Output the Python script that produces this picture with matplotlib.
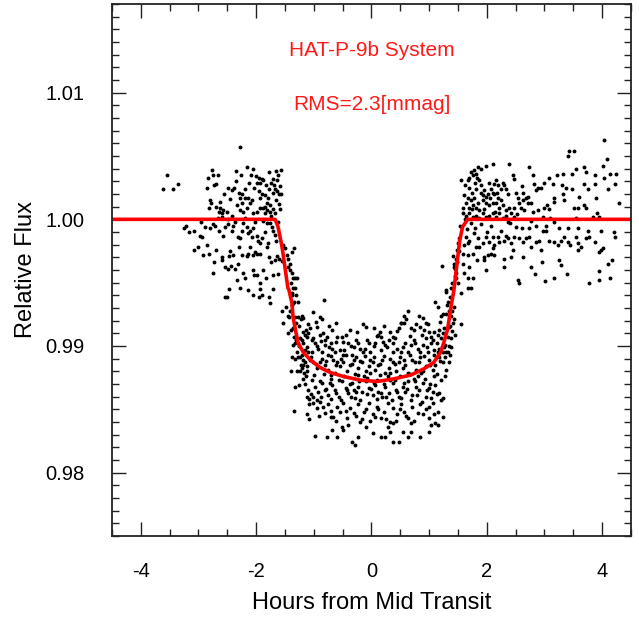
import numpy as np
import matplotlib
matplotlib.use("Agg")
import matplotlib.pyplot as plt
from matplotlib.ticker import MultipleLocator, FormatStrFormatter

# light curve points: (hours from mid transit, relative flux)
pre_transit = [
    (-2.28, 1.0057), (-3.55, 1.0035), (-3.62, 1.0024), (-3.45, 1.0024), (-3.36, 1.0028),
    (-2.77, 1.0039), (-2.84, 1.0033), (-2.75, 1.0035), (-2.67, 1.0035), (-2.70, 1.0028),
    (-2.73, 1.0027), (-2.86, 1.0025), (-2.80, 1.0015), (-2.79, 1.0013), (-2.82, 1.0009),
    (-2.49, 1.0025), (-2.42, 1.0023), (-2.39, 1.0025), (-2.16, 1.0041), (-2.06, 1.0040),
    (-2.09, 1.0035), (-2.00, 1.0034), (-2.26, 1.0035), (-1.90, 1.0032), (-1.88, 1.0031),
    (-1.99, 1.0029), (-1.93, 1.0029), (-1.71, 1.0032), (-1.62, 1.0035), (-1.57, 1.0039),
    (-1.64, 1.0031), (-1.67, 1.0024), (-1.64, 1.0022), (-1.60, 1.0020), (-1.57, 1.0020),
    (-1.71, 1.0021), (-1.90, 1.0020), (-1.85, 1.0019), (-1.93, 1.0017), (-1.81, 1.0013),
    (-1.76, 1.0011), (-1.79, 1.0017), (-2.30, 1.0021), (-2.25, 1.0020), (-2.19, 1.0017),
    (-2.14, 1.0017), (-2.11, 1.0013), (-2.07, 1.0015), (-2.28, 1.0017), (-2.25, 1.0013),
    (-2.33, 1.0011), (-2.28, 1.0007), (-2.23, 1.0006), (-2.16, 1.0009), (-2.06, 1.0005),
    (-1.99, 1.0006), (-1.93, 1.0009), (-2.63, 1.0009), (-2.58, 1.0007), (-2.65, 1.0006),
    (-2.60, 1.0005), (-2.51, 1.0006), (-2.67, 1.0001), (-2.60, 1.0002), (-2.42, 1.0003),
    (-2.49, 1.0000), (-1.88, 1.0009), (-1.81, 1.0007), (-1.85, 1.0005), (-1.76, 1.0006),
    (-1.71, 1.0008), (-1.67, 1.0005), (-1.88, 0.9999), (-1.81, 0.9997), (-1.76, 0.9997),
    (-1.72, 0.9994), (-1.71, 0.9991), (-3.26, 0.9993), (-3.21, 0.9995), (-3.17, 0.9990),
    (-2.98, 0.9987), (-2.94, 0.9986), (-2.89, 0.9994), (-2.80, 0.9993), (-2.75, 0.9996),
    (-2.72, 0.9995), (-2.54, 0.9994), (-2.49, 0.9996), (-2.40, 0.9995), (-2.42, 0.9991),
    (-2.23, 0.9997), (-2.16, 0.9994), (-2.25, 0.9991), (-2.11, 0.9991), (-2.06, 0.9993),
    (-2.32, 0.9986), (-2.28, 0.9985), (-2.14, 0.9989), (-2.07, 0.9986), (-1.99, 0.9987),
    (-1.97, 0.9983), (-1.93, 0.9981), (-1.79, 0.9981), (-1.81, 0.9978), (-2.11, 0.9978),
    (-2.02, 0.9974), (-1.99, 0.9973), (-1.93, 0.9973), (-2.14, 0.9973), (-2.06, 0.9972),
    (-2.16, 0.9971), (-3.07, 0.9976), (-3.01, 0.9978), (-2.93, 0.9972), (-2.82, 0.9973),
    (-2.70, 0.9976), (-2.46, 0.9975), (-2.47, 0.9971), (-2.40, 0.9972), (-2.25, 0.9972),
    (-2.60, 0.9970), (-2.60, 0.9968), (-2.73, 0.9966), (-2.54, 0.9962), (-2.44, 0.9963),
    (-2.49, 0.9961), (-2.37, 0.9961), (-2.32, 0.9965), (-2.75, 0.9958), (-2.33, 0.9952),
    (-2.23, 0.9958), (-2.19, 0.9954), (-2.06, 0.9960), (-2.04, 0.9956), (-1.99, 0.9956),
    (-1.88, 0.9960), (-1.93, 0.9950), (-1.83, 0.9954), (-1.71, 0.9956), (-1.62, 0.9957),
    (-1.74, 0.9966), (-1.67, 0.9968), (-1.64, 0.9971), (-1.60, 0.9969), (-1.55, 0.9967),
    (-2.47, 0.9945), (-2.28, 0.9946), (-2.14, 0.9944), (-1.93, 0.9945), (-1.71, 0.9945),
    (-2.51, 0.9939), (-2.54, 0.9939), (-2.06, 0.9940), (-1.95, 0.9939), (-1.90, 0.9940),
    (-1.76, 0.9934), (-1.78, 0.9939),
    (-1.83, 1.0027), (-1.77, 1.0024), (-1.74, 1.0029), (-1.69, 1.0027), (-1.66, 1.0015),
    (-1.61, 1.0012), (-1.85, 1.0010), (-1.95, 1.0022), (-2.03, 1.0025), (-2.12, 1.0029),
    (-2.20, 1.0024), (-2.35, 1.0030), (-2.45, 1.0016), (-2.55, 1.0020), (-2.62, 1.0014),
    (-2.70, 1.0010), (-1.75, 1.0003), (-1.62, 0.9998), (-1.68, 0.9988), (-1.85, 0.9990),
    (-2.02, 0.9998), (-2.20, 1.0001), (-2.37, 0.9998), (-2.57, 0.9987), (-2.85, 0.9980),
    (-1.90, 0.9985), (-1.65, 0.9983), (-1.77, 0.9970), (-2.30, 0.9978), (-2.65, 0.9991),
    (-2.96, 0.9998), (-3.08, 0.9991), (-1.58, 1.0008), (-1.58, 1.0026), (-1.65, 1.0038),
    (-1.78, 1.0037), (-1.95, 1.0033), (-2.35, 1.0038),
]

ingress = [
    (-1.53, 0.9980), (-1.50, 0.9977), (-1.46, 0.9972), (-1.45, 0.9969), (-1.41, 0.9965),
    (-1.38, 0.9974), (-1.34, 0.9977), (-1.45, 0.9962), (-1.41, 0.9960), (-1.38, 0.9958),
    (-1.36, 0.9954), (-1.32, 0.9954), (-1.29, 0.9954), (-1.36, 0.9946), (-1.32, 0.9946),
    (-1.55, 0.9928), (-1.48, 0.9931), (-1.45, 0.9924), (-1.43, 0.9923), (-1.53, 0.9918),
    (-1.45, 0.9910), (-1.39, 0.9913), (-1.36, 0.9914), (-1.34, 0.9907), (-1.38, 0.9942),
    (-1.31, 0.9940), (-1.34, 0.9935), (-1.27, 0.9935), (-1.38, 0.9932), (-1.36, 0.9934),
    (-1.32, 0.9923), (-1.27, 0.9923), (-1.20, 0.9924), (-1.18, 0.9922), (-1.22, 0.9921),
    (-1.31, 0.9918), (-1.25, 0.9916), (-1.10, 0.9917), (-1.13, 0.9913), (-1.18, 0.9911),
    (-1.10, 0.9910), (-1.15, 0.9909), (-1.11, 0.9907), (-1.31, 0.9905), (-1.24, 0.9906),
    (-1.20, 0.9905), (-1.18, 0.9902), (-1.27, 0.9902), (-1.32, 0.9902), (-1.36, 0.9901),
    (-1.11, 0.9899), (-1.15, 0.9897), (-1.29, 0.9895), (-1.10, 0.9895), (-1.20, 0.9893),
    (-1.27, 0.9891), (-1.24, 0.9891), (-1.38, 0.9891), (-1.32, 0.9890), (-1.18, 0.9889),
    (-1.15, 0.9887), (-1.18, 0.9885), (-1.11, 0.9884), (-1.20, 0.9883), (-1.29, 0.9880),
    (-1.24, 0.9880), (-1.11, 0.9880), (-1.17, 0.9879), (-1.18, 0.9874), (-1.13, 0.9876),
    (-1.10, 0.9865), (-1.25, 0.9869), (-1.32, 0.9868), (-1.11, 0.9860), (-1.08, 0.9858),
    (-1.08, 0.9854), (-1.34, 0.9849), (-1.11, 0.9846), (-1.08, 0.9842),
    (-1.40, 0.9950), (-1.37, 0.9940), (-1.42, 0.9928), (-1.25, 0.9900), (-1.22, 0.9885),
    (-1.40, 0.9880), (-1.15, 0.9870),
]

in_transit = [
    (-0.82, 0.9936), (-1.01, 0.9927), (-0.89, 0.9923), (-0.85, 0.9921), (1.29, 0.9943),
    (1.32, 0.9935), (1.31, 0.9932), (1.36, 0.9939), (1.34, 0.9928), (1.24, 0.9925),
    (1.20, 0.9924), (1.10, 0.9935), (1.15, 0.9931), (1.43, 0.9931), (0.63, 0.9928),
    (0.57, 0.9924), (0.82, 0.9924), (0.56, 0.9918), (0.51, 0.9918),
    (-1.06, 0.9914), (-0.94, 0.9915), (-1.01, 0.9906), (-1.03, 0.9905), (-0.89, 0.9909),
    (-0.84, 0.9910), (-0.77, 0.9907), (-0.80, 0.9905), (-0.68, 0.9913), (-0.59, 0.9907),
    (-0.51, 0.9907), (-0.45, 0.9909), (-0.49, 0.9903), (-0.14, 0.9917), (-0.10, 0.9915),
    (0.14, 0.9911), (0.12, 0.9909), (0.16, 0.9907), (0.33, 0.9911), (0.38, 0.9907),
    (0.47, 0.9914), (0.52, 0.9918), (0.68, 0.9914), (0.73, 0.9913), (0.77, 0.9917),
    (0.85, 0.9915), (0.94, 0.9918), (0.98, 0.9917), (0.91, 0.9913), (0.99, 0.9911),
    (1.03, 0.9907), (1.08, 0.9911), (1.17, 0.9913), (1.15, 0.9909), (1.24, 0.9910),
    (1.25, 0.9914), (1.34, 0.9915), (1.41, 0.9918), (1.43, 0.9921), (1.32, 0.9907),
    (1.38, 0.9906), (1.45, 0.9909),
    (-0.98, 0.9902), (-0.92, 0.9898), (-0.85, 0.9895), (-1.03, 0.9895), (-0.80, 0.9901),
    (-0.71, 0.9902), (-0.68, 0.9898), (-0.63, 0.9895), (-0.54, 0.9897), (-0.40, 0.9902),
    (-0.31, 0.9899), (-0.24, 0.9902), (-0.19, 0.9898), (-0.14, 0.9895), (-0.07, 0.9905),
    (-0.05, 0.9902), (-0.02, 0.9895), (0.07, 0.9902), (0.16, 0.9897), (0.24, 0.9901),
    (0.30, 0.9905), (0.38, 0.9902), (0.37, 0.9895), (0.45, 0.9898), (0.51, 0.9895),
    (0.59, 0.9902), (0.63, 0.9895), (0.68, 0.9901), (0.73, 0.9905), (0.80, 0.9898),
    (0.85, 0.9895), (0.89, 0.9901), (0.94, 0.9906), (1.03, 0.9902), (1.08, 0.9897),
    (1.17, 0.9898), (1.25, 0.9899), (1.24, 0.9895), (1.32, 0.9895), (1.38, 0.9899),
    (1.15, 0.9895), (0.98, 0.9895), (-0.33, 0.9893), (-0.49, 0.9893), (-0.75, 0.9893),
    (-1.06, 0.9889), (-1.01, 0.9887), (-0.94, 0.9883), (-0.89, 0.9887), (-0.80, 0.9885),
    (-0.75, 0.9881), (-0.66, 0.9889), (-0.59, 0.9887), (-0.54, 0.9884), (-0.49, 0.9887),
    (-0.42, 0.9880), (-0.37, 0.9885), (-0.31, 0.9889), (-0.23, 0.9883), (-0.16, 0.9887),
    (-0.10, 0.9880), (-0.05, 0.9884), (0.02, 0.9887), (0.07, 0.9881), (0.12, 0.9885),
    (0.19, 0.9889), (0.24, 0.9879), (0.30, 0.9883), (0.37, 0.9887), (0.42, 0.9880),
    (0.47, 0.9887), (0.54, 0.9883), (0.59, 0.9885), (0.64, 0.9879), (0.71, 0.9889),
    (0.77, 0.9881), (0.82, 0.9887), (0.89, 0.9880), (0.94, 0.9884), (0.99, 0.9889),
    (1.06, 0.9881), (1.11, 0.9885), (1.17, 0.9891), (1.24, 0.9887), (1.29, 0.9881),
    (1.34, 0.9887), (-0.71, 0.9877), (-0.24, 0.9877), (0.28, 0.9876), (0.80, 0.9876),
    (1.08, 0.9876),
    (-1.03, 0.9873), (-0.98, 0.9868), (-0.92, 0.9864), (-1.01, 0.9860), (-0.85, 0.9871),
    (-0.80, 0.9865), (-0.75, 0.9861), (-0.68, 0.9869), (-0.63, 0.9865), (-0.57, 0.9860),
    (-0.51, 0.9872), (-0.45, 0.9867), (-0.40, 0.9863), (-0.33, 0.9871), (-0.28, 0.9859),
    (-0.23, 0.9868), (-0.16, 0.9864), (-0.10, 0.9872), (-0.05, 0.9867), (0.02, 0.9861),
    (0.07, 0.9869), (0.12, 0.9864), (0.19, 0.9860), (0.24, 0.9868), (0.30, 0.9863),
    (0.37, 0.9871), (0.42, 0.9865), (0.47, 0.9860), (0.54, 0.9868), (0.59, 0.9864),
    (0.64, 0.9872), (0.71, 0.9861), (0.77, 0.9868), (0.82, 0.9865), (0.89, 0.9871),
    (0.94, 0.9860), (0.99, 0.9867), (1.06, 0.9864), (1.11, 0.9869), (1.17, 0.9863),
    (1.24, 0.9859), (-0.07, 0.9875), (0.33, 0.9873), (0.73, 0.9874), (-0.71, 0.9874),
    (-0.31, 0.9865), (0.10, 0.9873),
    (-1.01, 0.9855), (-0.94, 0.9851), (-0.89, 0.9856), (-0.80, 0.9847), (-0.75, 0.9854),
    (-0.66, 0.9844), (-0.59, 0.9852), (-0.54, 0.9848), (-0.49, 0.9855), (-0.42, 0.9843),
    (-0.37, 0.9851), (-0.31, 0.9847), (-0.23, 0.9854), (-0.16, 0.9842), (-0.10, 0.9850),
    (-0.05, 0.9855), (0.02, 0.9846), (0.10, 0.9852), (0.16, 0.9843), (0.21, 0.9848),
    (0.28, 0.9855), (0.33, 0.9840), (0.38, 0.9851), (0.45, 0.9846), (0.51, 0.9854),
    (0.56, 0.9848), (0.64, 0.9843), (0.71, 0.9852), (0.80, 0.9847), (0.85, 0.9854),
    (0.94, 0.9850), (0.99, 0.9843), (1.06, 0.9855), (1.15, 0.9848), (1.24, 0.9844),
    (1.11, 0.9839), (1.03, 0.9838), (0.68, 0.9839), (0.28, 0.9836), (-0.19, 0.9840),
    (-0.71, 0.9844),
    (-0.98, 0.9829), (-0.77, 0.9828), (-0.68, 0.9834), (-0.59, 0.9828), (-0.49, 0.9834),
    (-0.33, 0.9824), (-0.28, 0.9822), (-0.23, 0.9828), (0.02, 0.9831), (0.16, 0.9828),
    (0.24, 0.9828), (0.37, 0.9824), (0.47, 0.9824), (0.54, 0.9832), (0.63, 0.9828),
    (0.85, 0.9828), (0.99, 0.9832), (1.15, 0.9838), (-0.51, 0.9836), (-0.10, 0.9836),
    (0.33, 0.9832), (0.68, 0.9832), (0.38, 0.9839),
    # denser core between the rows above
    (-0.95, 0.9900), (-0.87, 0.9904), (-0.73, 0.9899), (-0.61, 0.9903), (-0.47, 0.9897),
    (-0.35, 0.9900), (-0.27, 0.9905), (-0.12, 0.9898), (0.04, 0.9900), (0.10, 0.9908),
    (0.20, 0.9903), (0.27, 0.9899), (0.41, 0.9906), (0.55, 0.9899), (0.66, 0.9908),
    (0.75, 0.9902), (0.87, 0.9909), (0.97, 0.9899), (1.06, 0.9905), (1.13, 0.9902),
    (1.21, 0.9906), (1.28, 0.9901), (1.40, 0.9912),
    (-1.04, 0.9891), (-0.97, 0.9886), (-0.86, 0.9890), (-0.78, 0.9888), (-0.70, 0.9892),
    (-0.62, 0.9885), (-0.52, 0.9890), (-0.44, 0.9893), (-0.34, 0.9886), (-0.27, 0.9891),
    (-0.20, 0.9888), (-0.12, 0.9892), (-0.03, 0.9889), (0.05, 0.9891), (0.14, 0.9886),
    (0.22, 0.9892), (0.32, 0.9890), (0.40, 0.9886), (0.50, 0.9891), (0.57, 0.9889),
    (0.66, 0.9893), (0.75, 0.9887), (0.84, 0.9891), (0.92, 0.9892), (1.01, 0.9885),
    (1.09, 0.9893), (1.19, 0.9888), (1.27, 0.9891), (1.36, 0.9893),
    (-0.99, 0.9877), (-0.90, 0.9872), (-0.83, 0.9878), (-0.72, 0.9871), (-0.64, 0.9879),
    (-0.56, 0.9873), (-0.47, 0.9876), (-0.38, 0.9870), (-0.29, 0.9878), (-0.21, 0.9872),
    (-0.13, 0.9876), (-0.02, 0.9879), (0.05, 0.9871), (0.15, 0.9877), (0.21, 0.9870),
    (0.33, 0.9879), (0.40, 0.9873), (0.49, 0.9876), (0.57, 0.9871), (0.67, 0.9878),
    (0.75, 0.9872), (0.86, 0.9879), (0.93, 0.9874), (1.02, 0.9870), (1.13, 0.9878),
    (1.20, 0.9873), (1.27, 0.9876),
    (-1.05, 0.9862), (-0.95, 0.9857), (-0.87, 0.9860), (-0.78, 0.9866), (-0.70, 0.9858),
    (-0.61, 0.9863), (-0.53, 0.9857), (-0.43, 0.9865), (-0.36, 0.9860), (-0.26, 0.9864),
    (-0.19, 0.9857), (-0.08, 0.9862), (0.00, 0.9866), (0.09, 0.9858), (0.17, 0.9863),
    (0.26, 0.9860), (0.35, 0.9857), (0.44, 0.9864), (0.52, 0.9859), (0.62, 0.9866),
    (0.69, 0.9857), (0.79, 0.9861), (0.87, 0.9856), (0.97, 0.9865), (1.04, 0.9859),
    (1.14, 0.9862), (1.21, 0.9857),
    (-0.91, 0.9845), (-0.84, 0.9852), (-0.70, 0.9849), (-0.62, 0.9841), (-0.45, 0.9849),
    (-0.40, 0.9838), (-0.26, 0.9845), (-0.13, 0.9848), (-0.03, 0.9841), (0.07, 0.9844),
    (0.12, 0.9850), (0.25, 0.9842), (0.42, 0.9841), (0.49, 0.9850), (0.60, 0.9845),
    (0.74, 0.9841), (0.90, 0.9846), (1.00, 0.9852), (1.09, 0.9846),
    (-0.96, 0.9919), (-0.73, 0.9916), (-0.62, 0.9918), (-0.38, 0.9913), (-0.25, 0.9911),
    (0.05, 0.9914), (0.22, 0.9916), (0.44, 0.9912), (0.60, 0.9921), (0.90, 0.9922),
    (1.19, 0.9919), (1.30, 0.9925), (1.38, 0.9924),
]

egress = [
    (1.53, 0.9995), (1.52, 0.9985), (1.50, 0.9981), (1.48, 0.9976), (1.41, 0.9971),
    (1.46, 0.9969), (1.43, 0.9965), (1.45, 0.9961), (1.22, 0.9963), (1.39, 0.9950),
    (1.50, 0.9950), (1.46, 0.9954), (1.55, 0.9917), (1.55, 0.9942), (1.29, 0.9944),
    (1.38, 0.9946), (1.43, 0.9962), (1.46, 0.9958),
    (1.40, 0.9928), (1.37, 0.9916), (1.45, 0.9955), (1.49, 0.9966), (1.52, 0.9975),
    (1.30, 0.9895), (1.35, 0.9900),
]

post_transit = [
    (4.04, 1.0063), (3.41, 1.0050), (3.43, 1.0054), (3.52, 1.0054), (4.08, 1.0048),
    (4.01, 1.0042), (2.11, 1.0044), (1.99, 1.0042), (1.90, 1.0040), (1.85, 1.0041),
    (2.39, 1.0044), (2.73, 1.0041), (1.78, 1.0039), (1.72, 1.0037), (1.81, 1.0036),
    (1.76, 1.0035), (1.69, 1.0033), (1.67, 1.0031), (1.55, 1.0031), (1.62, 1.0027),
    (1.83, 1.0033), (1.86, 1.0031), (1.79, 1.0029), (2.46, 1.0035), (2.47, 1.0032),
    (2.80, 1.0035), (3.08, 1.0033), (3.33, 1.0036), (3.47, 1.0036), (3.55, 1.0040),
    (3.69, 1.0041), (3.73, 1.0037), (3.87, 1.0035), (4.04, 1.0033), (4.13, 1.0036),
    (3.15, 1.0028), (2.82, 1.0028), (3.31, 1.0027), (3.38, 1.0025), (3.47, 1.0024),
    (3.68, 1.0028), (3.76, 1.0024), (3.88, 1.0028), (2.04, 1.0029), (2.13, 1.0028),
    (2.16, 1.0031), (2.19, 1.0027), (2.07, 1.0024), (2.11, 1.0021), (2.13, 1.0020),
    (2.02, 1.0020), (1.95, 1.0023), (1.90, 1.0021), (1.93, 1.0019), (2.28, 1.0029),
    (2.30, 1.0027), (2.25, 1.0024), (2.37, 1.0020), (2.51, 1.0021), (2.63, 1.0021),
    (2.72, 1.0018), (2.94, 1.0025), (3.00, 1.0029), (2.86, 1.0023), (2.89, 1.0025),
    (3.33, 1.0020), (3.17, 1.0017), (4.11, 1.0024), (1.60, 1.0019), (1.67, 1.0017),
    (1.72, 1.0015), (1.78, 1.0017), (1.85, 1.0013), (1.64, 1.0013), (1.59, 1.0009),
    (1.69, 1.0009), (1.76, 1.0011), (1.81, 1.0009), (1.86, 1.0007), (1.93, 1.0015),
    (1.99, 1.0013), (2.04, 1.0011), (2.11, 1.0013), (2.16, 1.0013), (2.19, 1.0017),
    (2.25, 1.0015), (2.28, 1.0011), (2.21, 1.0009), (2.33, 1.0007), (2.39, 1.0009),
    (2.42, 1.0005), (2.47, 1.0009), (2.54, 1.0017), (2.56, 1.0013), (2.63, 1.0015),
    (2.60, 1.0009), (2.65, 1.0007), (2.68, 1.0017), (2.72, 1.0013), (2.77, 1.0013),
    (2.80, 1.0006), (2.89, 1.0007), (3.00, 1.0009), (3.05, 1.0011), (3.08, 1.0008),
    (3.17, 1.0014), (3.34, 1.0015), (3.52, 1.0009), (3.59, 1.0009), (3.69, 1.0011),
    (3.73, 1.0009), (3.92, 1.0005), (3.55, 1.0001), (3.85, 1.0002), (3.95, 1.0002),
    (1.59, 1.0005), (1.64, 1.0003), (1.69, 1.0005), (1.76, 1.0002), (1.81, 1.0003),
    (1.86, 1.0001), (1.93, 1.0005), (1.99, 1.0002), (2.04, 1.0003), (2.11, 1.0005),
    (2.16, 1.0002), (2.21, 1.0005), (2.28, 1.0001), (2.33, 1.0003), (2.37, 0.9998),
    (2.47, 1.0002), (2.51, 0.9994), (2.61, 0.9993), (2.73, 0.9993), (2.77, 0.9999),
    (2.86, 0.9995), (2.98, 1.0002), (3.03, 0.9995), (3.10, 1.0001), (3.17, 0.9998),
    (3.26, 0.9993), (3.41, 0.9993), (3.59, 0.9993), (3.76, 0.9991), (3.99, 0.9991),
    (1.64, 0.9986), (1.69, 0.9983), (1.60, 0.9980), (1.67, 0.9981), (1.78, 0.9989),
    (1.85, 0.9985), (1.81, 0.9978), (1.86, 0.9978), (1.93, 0.9981), (1.99, 0.9986),
    (2.04, 0.9982), (2.11, 0.9986), (2.13, 0.9980), (2.19, 0.9986), (2.21, 0.9982),
    (2.30, 0.9983), (2.33, 0.9987), (2.37, 0.9985), (2.42, 0.9981), (2.47, 0.9986),
    (2.56, 0.9985), (2.63, 0.9982), (2.68, 0.9985), (2.73, 0.9986), (2.77, 0.9978),
    (2.86, 0.9982), (2.91, 0.9983), (2.98, 0.9991), (3.03, 0.9991), (3.08, 0.9983),
    (3.17, 0.9982), (3.24, 0.9980), (3.29, 0.9983), (3.34, 0.9986), (3.41, 0.9982),
    (3.55, 0.9986), (3.59, 0.9981), (3.64, 0.9978), (3.73, 0.9985), (3.78, 0.9986),
    (3.87, 0.9982), (3.99, 0.9976), (4.02, 0.9977), (1.59, 0.9973), (1.67, 0.9972),
    (1.76, 0.9973), (1.95, 0.9970), (2.02, 0.9972), (2.07, 0.9973), (1.95, 0.9968),
    (2.13, 0.9972), (2.30, 0.9969), (2.42, 0.9970), (2.63, 0.9970), (2.77, 0.9962),
    (2.94, 0.9976), (3.29, 0.9964), (3.59, 0.9976), (3.94, 0.9974), (4.11, 0.9965),
    (1.59, 0.9965), (1.60, 0.9958), (1.67, 0.9954), (1.76, 0.9954), (1.72, 0.9946),
    (1.67, 0.9946), (1.99, 0.9960), (2.30, 0.9962), (2.54, 0.9952), (2.56, 0.9950),
    (2.84, 0.9957), (3.01, 0.9951), (3.17, 0.9954), (3.40, 0.9957), (3.78, 0.9950),
    (3.95, 0.9952), (3.94, 0.9959), (4.13, 0.9954), (4.25, 1.0036), (4.22, 1.0028),
    (4.29, 1.0013), (4.20, 0.9990), (4.23, 0.9986), (4.18, 0.9968),
    (1.70, 1.0025), (1.75, 1.0021), (1.82, 1.0024), (1.90, 1.0027), (1.98, 1.0018),
    (2.06, 1.0017), (2.18, 1.0021), (2.34, 1.0024), (1.62, 1.0000), (1.72, 0.9997),
    (1.80, 0.9993), (1.90, 0.9996), (2.00, 0.9990), (2.08, 0.9995), (2.24, 0.9991),
    (2.40, 0.9997), (1.65, 0.9992), (1.75, 1.0008), (1.95, 1.0008), (2.14, 1.0006),
    (2.52, 1.0004), (1.70, 0.9962), (1.83, 0.9968), (2.10, 0.9977), (2.46, 0.9976),
    (2.62, 1.0026), (3.22, 1.0035), (3.60, 1.0018), (3.90, 1.0017), (3.25, 0.9968),
    (3.45, 0.9980), (2.95, 0.9966),
]

# transit model curve
model_t = [-4.5, -1.67, -1.62, -1.55, -1.50, -1.45, -1.43, -1.38, -1.36, -1.32, -1.27,
           -1.18, -1.06, -0.89, -0.71, -0.49, -0.19, 0.10, 0.38, 0.68, 0.91, 1.08, 1.20,
           1.25, 1.32, 1.38, 1.43, 1.53, 1.58, 1.67, 4.5]
model_f = [1.0000, 1.0000, 0.9994, 0.9978, 0.9962, 0.9946, 0.9944, 0.9934, 0.9923, 0.9913,
           0.9902, 0.9895, 0.9889, 0.9883, 0.9879, 0.9876, 0.9873, 0.9872, 0.9874, 0.9877,
           0.9882, 0.9887, 0.9895, 0.9902, 0.9913, 0.9931, 0.9944, 0.9983, 0.9994, 1.0000,
           1.0000]

title_text = 'HAT-P-9b System'
rms_text = 'RMS=2.3[mmag]'

plt.rcParams['font.family'] = ['Liberation Sans', 'DejaVu Sans']
plt.rcParams['axes.unicode_minus'] = False

fig = plt.figure(figsize=(6.39, 6.17), dpi=100)
ax = fig.add_axes([0.1753, 0.1313, 0.812, 0.8622])

for seg in (pre_transit, ingress, in_transit, egress, post_transit):
    t, f = np.array(seg).T
    ax.plot(t, f, 'o', color='black', markersize=2.8, markeredgewidth=0)

ax.plot(model_t, model_f, color='red', linewidth=2.6)

ax.text(0.0, 1.0133, title_text, color='#ff1a1a', fontsize=15, ha='center', va='center')
ax.text(0.0, 1.0091, rms_text, color='#ff1a1a', fontsize=15, ha='center', va='center')

ax.set_xlim(-4.5, 4.5)
ax.set_ylim(0.975, 1.017)
ax.xaxis.set_major_locator(MultipleLocator(2))
ax.xaxis.set_minor_locator(MultipleLocator(0.5))
ax.yaxis.set_major_locator(MultipleLocator(0.01))
ax.yaxis.set_minor_locator(MultipleLocator(0.001))
ax.yaxis.set_major_formatter(FormatStrFormatter('%.2f'))

ax.tick_params(which='both', direction='in', top=True, right=True, width=1.0, color='#222222')
ax.tick_params(which='major', length=10, labelsize=14.5)
ax.tick_params(which='minor', length=5)
ax.tick_params(axis='x', which='major', pad=19)
ax.tick_params(axis='y', which='major', pad=20)
for sp in ax.spines.values():
    sp.set_linewidth(1.3)
    sp.set_color('#222222')

ax.set_xlabel('Hours from Mid Transit', fontsize=17, labelpad=8)
ax.set_ylabel('Relative Flux', fontsize=17, labelpad=6)

fig.savefig('out.png', dpi=100)
